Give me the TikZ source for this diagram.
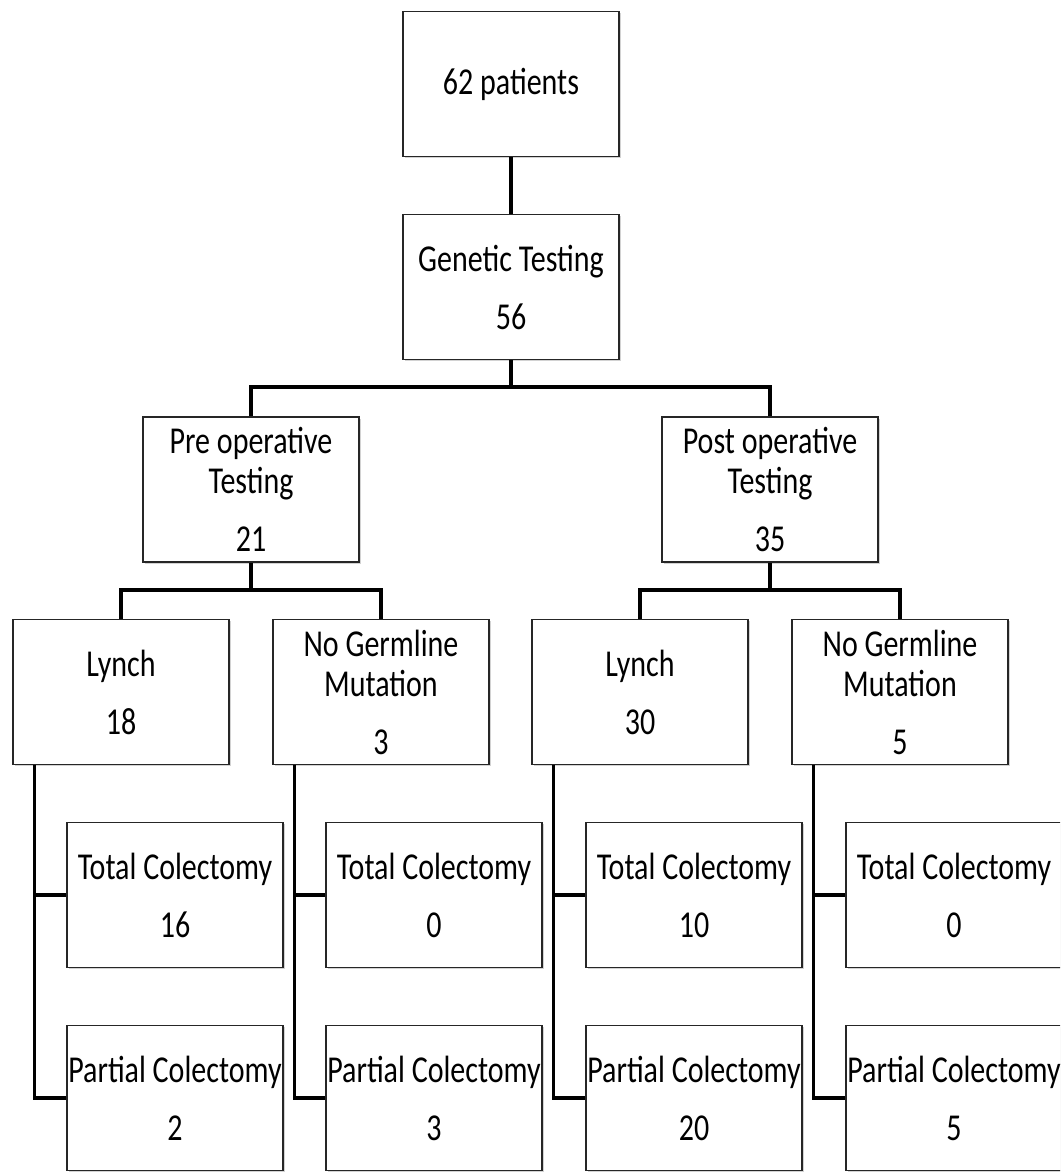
\documentclass[tikz,border=0pt]{standalone}
\usepackage{fontspec}
\setmainfont{Carlito}[FakeStretch=0.79]
\usetikzlibrary{shadows,calc}
\begin{document}
\begin{tikzpicture}[x=1pt,y=-1pt,
  box/.style={draw=black!85, line width=1.5pt, fill=white,
    minimum width=216pt, minimum height=145pt, inner sep=0pt,
    align=center, font=\fontsize{38}{40}\selectfont,
    drop shadow={shadow xshift=1.5pt, shadow yshift=-1.5pt, opacity=0.35}},
  conn/.style={line width=3.5pt, black, line join=miter}]
\fill[white] (0,0) rectangle (1060,1172);
\useasboundingbox (0,0) rectangle (1060,1172);
\begin{scope}
\clip (0,0) rectangle (1060,1172);
\coordinate (jg) at (511,387);
\coordinate (jpre) at (251,590);
\coordinate (jpost) at (770,590);
\node[box] (top) at (511,84) {62 patients};
\node[box] (gen) at (511,287) {Genetic Testing\\[18pt]56};
\node[box] (pre) at (251,489.5) {Pre operative\\Testing\\[18pt]21};
\node[box] (post) at (770,489.5) {Post operative\\Testing\\[18pt]35};
\node[box] (L1) at (121,692) {Lynch\\[18pt]18};
\node[box] (N1) at (381,692) {No Germline\\Mutation\\[18pt]3};
\node[box] (L2) at (640,692) {Lynch\\[18pt]30};
\node[box] (N2) at (900,692) {No Germline\\Mutation\\[18pt]5};
\node[box] (T1) at (175,895) {Total Colectomy\\[18pt]16};
\node[box] (T2) at (434,895) {Total Colectomy\\[18pt]0};
\node[box] (T3) at (694,895) {Total Colectomy\\[18pt]10};
\node[box] (T4) at (954,895) {Total Colectomy\\[18pt]0};
\node[box] (P1) at (175,1098) {Partial Colectomy\\[18pt]2};
\node[box] (P2) at (434,1098) {Partial Colectomy\\[18pt]3};
\node[box] (P3) at (694,1098) {Partial Colectomy\\[18pt]20};
\node[box] (P4) at (954,1098) {Partial Colectomy\\[18pt]5};
\draw[conn] (top.south) -- (gen.north);
\draw[conn] (gen.south) -- (jg);
\draw[conn] (pre.north) |- (jg) -| (post.north);
\draw[conn] (pre.south) -- (jpre);
\draw[conn] (L1.north) |- (jpre) -| (N1.north);
\draw[conn] (post.south) -- (jpost);
\draw[conn] (L2.north) |- (jpost) -| (N2.north);
\foreach \a/\t/\p in {L1/T1/P1, N1/T2/P2, L2/T3/P3, N2/T4/P4}{
  \coordinate (v\a) at ($(\a.south west)+(22,0)$);
  \draw[conn] (v\a) |- (\t.west);
  \draw[conn] (v\a) |- (\p.west);
}
\end{scope}
\end{tikzpicture}
\end{document}
